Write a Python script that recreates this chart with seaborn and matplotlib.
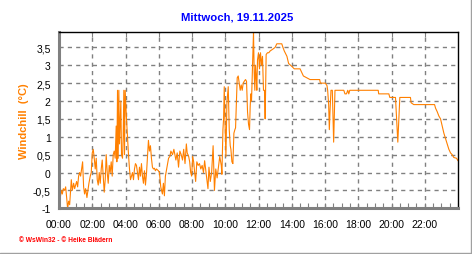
import matplotlib
matplotlib.use("Agg")
import matplotlib.pyplot as plt
import seaborn as sns
import pandas as pd
from matplotlib.lines import Line2D
from matplotlib.ticker import MultipleLocator, FixedLocator

title = "Mittwoch, 19.11.2025"
ylabel = "Windchill  (°C)"
footer = "© WsWin32 - © Heike Blädern"
xtick_labels = ["00:00", "02:00", "04:00", "06:00", "08:00", "10:00",
                "12:00", "14:00", "16:00", "18:00", "20:00", "22:00"]
ytick_values = [-1, -0.5, 0, 0.5, 1, 1.5, 2, 2.5, 3, 3.5]
ytick_labels = ["-1", "-0,5", "0", "0,5", "1", "1,5", "2", "2,5", "3", "3,5"]

hours = [
    0.00, 0.06, 0.14, 0.20, 0.26, 0.34, 0.40, 0.44, 0.52, 0.58, 0.64, 0.68, 0.74, 0.80, 0.88, 0.94,
    1.00, 1.06, 1.12, 1.18, 1.24, 1.30, 1.36, 1.42, 1.48, 1.54, 1.60, 1.68, 1.74, 1.80, 1.88, 1.94,
    2.00, 2.06, 2.12, 2.18, 2.24, 2.30, 2.36, 2.42, 2.48, 2.54, 2.60, 2.66, 2.72, 2.78, 2.84, 2.90, 2.96,
    3.02, 3.08, 3.14, 3.20, 3.26, 3.32, 3.38, 3.44, 3.48, 3.52, 3.56, 3.60, 3.64, 3.68, 3.72, 3.76, 3.82,
    3.86, 3.90, 3.94, 3.98, 4.02, 4.06, 4.12, 4.18, 4.24, 4.30, 4.36, 4.42, 4.48, 4.54, 4.60, 4.66, 4.72,
    4.78, 4.84, 4.90, 4.96, 5.02, 5.08, 5.14, 5.20, 5.26, 5.38, 5.44, 5.50, 5.56, 5.62, 5.68, 5.74, 5.80,
    5.86, 5.98, 6.04, 6.12, 6.22, 6.28, 6.34, 6.40, 6.51, 6.59, 6.67, 6.73, 6.83, 6.91, 7.03, 7.11, 7.19,
    7.27, 7.35, 7.43, 7.50, 7.58, 7.66, 7.71, 7.80, 7.86, 7.92, 7.98, 8.04, 8.10, 8.16, 8.22, 8.29, 8.37,
    8.45, 8.53, 8.61, 8.69, 8.76, 8.82, 8.88, 8.96, 9.02, 9.10, 9.18, 9.27, 9.35, 9.43, 9.51, 9.59, 9.67,
    9.76, 9.80, 9.86, 9.90, 9.94, 9.98, 10.04, 10.10, 10.18, 10.24, 10.30, 10.34, 10.40, 10.46, 10.52,
    10.58, 10.62, 10.66, 10.72, 10.78, 10.84, 10.90, 10.96, 11.02, 11.08, 11.14, 11.22, 11.28, 11.34,
    11.40, 11.46, 11.50, 11.54, 11.58, 11.62, 11.66, 11.70, 11.74, 11.78, 11.82, 11.86, 11.90, 11.94,
    12.00, 12.06, 12.12, 12.18, 12.24, 12.30, 12.36, 12.40, 12.46, 12.54, 12.62, 12.70, 12.86, 13.00,
    13.10, 13.40, 13.47, 13.55, 13.71, 13.81, 14.00, 14.15, 14.50, 14.60, 14.70, 15.10, 15.68, 15.72,
    16.02, 16.12, 16.16, 16.22, 16.26, 16.30, 16.36, 16.44, 16.48, 16.52, 16.56, 16.60, 17.13, 17.20,
    17.29, 17.37, 17.43, 17.49, 19.20, 19.23, 19.84, 19.90, 20.24, 20.28, 20.34, 20.38, 20.44, 20.50,
    21.14, 21.18, 21.34, 22.59, 22.65, 22.75, 22.85, 22.95, 23.05, 23.15, 23.25, 23.35, 23.45, 23.55,
    23.65, 23.75, 23.91, 24.00,
]
windchill = [
    0.25, -0.75, -0.5, -0.6, -0.45, -0.5, -0.4, -0.6, -1.0, -0.8, -0.9, -0.6, -0.2, -0.5, -0.3, -0.45,
    -0.35, -0.25, -0.4, -0.1, 0.0, -0.1, 0.1, 0.3, -0.4, -0.6, -0.45, -0.7, -0.5, -0.3, -0.1, 0.0,
    0.55, 0.65, 0.4, 0.1, 0.4, -0.2, -0.35, 0.0, -0.3, 0.1, 0.35, -0.1, -0.55, -0.2, 0.5, 0.0, -0.3,
    0.2, 0.0, 0.3, -0.1, 0.5, 0.6, 0.4, 1.3, 0.3, 2.3, 0.4, 2.3, 0.8, 1.4, 2.0, 0.5, 0.4,
    1.0, 2.3, 0.5, 2.3, 1.9, 1.5, 1.0, 0.5, 0.1, -0.2, -0.1, 0.0, -0.2, 0.1, 0.25, 0.2, 0.0,
    -0.2, 0.15, -0.1, 0.25, -0.1, -0.3, 0.05, -0.35, -0.05, 0.9, 0.6, 0.75, 0.4, 0.15, 0.1, 0.12, 0.05,
    0.1, 0.05, 0.0, -0.4, -0.6, -0.3, -0.65, -0.1, 0.2, 0.4, 0.45, 0.6, 0.5, 0.65, 0.35, 0.55, 0.15,
    0.6, 0.5, 0.35, 0.65, 0.25, 0.8, 0.55, 0.45, 0.3, 0.0, -0.1, 0.45, 0.3, 0.0, -0.25, 0.3, 0.2,
    0.25, 0.1, 0.2, 0.0, 0.33, 0.1, -0.15, -0.45, 0.15, -0.25, 0.0, 0.75, -0.5, 0.1, -0.15, 0.15, 0.45,
    0.2, -0.05, 1.2, 1.5, 2.4, 1.5, 0.45, 1.95, 2.4, 1.2, 0.75, 0.65, 0.3, 0.25, 1.1,
    1.2, 1.25, 1.85, 2.65, 2.7, 2.5, 2.3, 2.45, 2.3, 2.5, 2.55, 2.6, 2.55, 1.7,
    1.35, 1.2, 1.85, 2.2, 2.0, 2.7, 3.3, 3.93, 2.8, 2.3, 3.0, 2.7, 2.3, 3.15,
    3.35, 2.9, 3.35, 3.0, 3.25, 2.3, 2.3, 1.5, 3.3, 3.35, 3.35, 3.4, 3.45, 3.5,
    3.6, 3.6, 3.5, 3.4, 3.25, 3.05, 2.97, 2.9, 2.9, 2.8, 2.7, 2.6, 2.6, 2.5,
    2.5, 2.43, 2.3, 1.9, 1.2, 1.7, 2.3, 2.3, 1.6, 0.85, 1.6, 2.3, 2.3, 2.2,
    2.2, 2.3, 2.2, 2.3, 2.3, 2.2, 2.2, 2.1, 2.1, 1.75, 1.18, 0.85, 1.45, 2.1,
    2.1, 1.95, 1.9, 1.9, 1.8, 1.7, 1.58, 1.5, 1.3, 1.1, 0.95, 0.8, 0.65, 0.55,
    0.5, 0.42, 0.4, 0.33,
]

df = pd.DataFrame({"h": hours, "v": windchill})

sns.set_style("white")
plt.rcParams["font.family"] = ["Liberation Sans", "DejaVu Sans"]

fig = plt.figure(figsize=(4.72, 2.55), dpi=100)
fig.patch.set_facecolor("white")
ax = fig.add_axes([59 / 472, 1 - 209.3 / 255, (458 - 59) / 472, (209.3 - 33) / 255])

sns.lineplot(data=df, x="h", y="v", ax=ax, color="#FF8000", linewidth=0.8, sort=False)

ax.set_xlim(0, 24)
ax.set_ylim(-1, 3.93)
ax.xaxis.set_major_locator(FixedLocator(list(range(0, 24, 2))))
ax.set_xticklabels(xtick_labels)
ax.xaxis.set_minor_locator(MultipleLocator(0.5))
ax.set_yticks(ytick_values)
ax.set_yticklabels(ytick_labels)

ax.grid(True, which="major", color="#808080", linestyle=(0, (3, 3)), linewidth=1.0)
ax.set_axisbelow(True)

ax.tick_params(axis="x", which="both", direction="in", length=3.5, width=0.8,
               color="#808080", labelsize=7.5, pad=8, top=True, bottom=True)
ax.tick_params(axis="x", which="minor", top=False)
for t in ax.xaxis.get_major_ticks():
    t.tick2line.set_color("#404040")
ax.tick_params(axis="y", which="both", length=0, labelsize=7.5, pad=6)
for lab in ax.get_xticklabels() + ax.get_yticklabels():
    lab.set_color("black")

for side in ["left", "bottom"]:
    ax.spines[side].set_color("#808080")
    ax.spines[side].set_linewidth(2.2)
for side in ["top", "right"]:
    ax.spines[side].set_color("black")
    ax.spines[side].set_linewidth(1.0)

ax.set_xlabel("")
ax.set_ylabel("")

fig.text(237 / 472, 1 - 18 / 255, title, color="#0000FF", fontsize=8.2,
         fontweight="bold", ha="center", va="center")
fig.text(24 / 472, 1 - 121 / 255, ylabel, color="#FF8000", fontsize=8,
         fontweight="bold", rotation=90, ha="center", va="center")
fig.text(19 / 472, 1 - 241 / 255, footer, color="#FF0000", fontsize=4.8,
         fontweight="bold", ha="left", va="center")

fig.add_artist(Line2D([470.5 / 472, 470.5 / 472], [0, 1], color="#A0A0A0",
                      linewidth=1.0, transform=fig.transFigure))
fig.add_artist(Line2D([0, 1], [1.5 / 255, 1.5 / 255], color="#A0A0A0",
                      linewidth=1.0, transform=fig.transFigure))

fig.savefig("out.png", dpi=100, facecolor="white")
